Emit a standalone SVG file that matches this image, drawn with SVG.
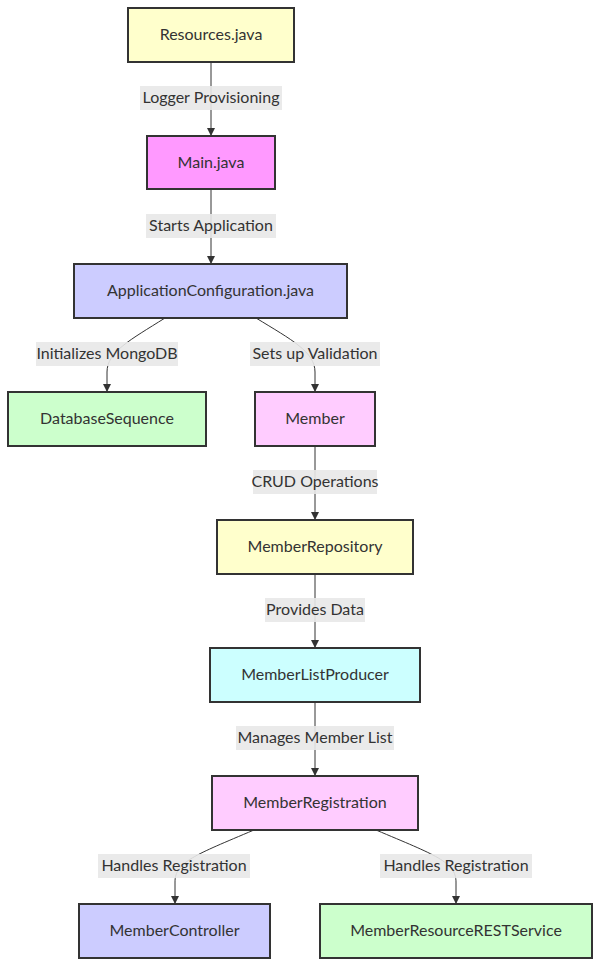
<svg xmlns="http://www.w3.org/2000/svg" width="600" height="966" viewBox="0 0 600 966">
<style>
.node rect{stroke:#333;stroke-width:2}
.node text,.label text{font-family:"Lato","Noto Sans",sans-serif;font-size:16px;fill:#333;text-anchor:middle;dominant-baseline:central}
.edge{fill:none;stroke:#333;stroke-width:1}
.label rect{fill:#e8e8e8;opacity:0.9}
</style>
<defs>
<marker id="arr" viewBox="0 0 10 10" refX="10" refY="5" markerWidth="8" markerHeight="8" markerUnits="userSpaceOnUse" orient="auto">
<path d="M0,0 L10,5 L0,10 z" fill="#333"/>
</marker>
</defs>
<rect width="600" height="966" fill="#fff"/>
<g id="connectors">
<path class="edge" d="M211,62 L211,136" marker-end="url(#arr)"/>
<path class="edge" d="M211,189 L211,264" marker-end="url(#arr)"/>
<path class="edge" d="M165,318 C130,340 107,352 107,372 L107,392" marker-end="url(#arr)"/>
<path class="edge" d="M256,318 C292,340 315,352 315,372 L315,392" marker-end="url(#arr)"/>
<path class="edge" d="M315,446 L315,520" marker-end="url(#arr)"/>
<path class="edge" d="M315,574 L315,648" marker-end="url(#arr)"/>
<path class="edge" d="M315,702 L315,776" marker-end="url(#arr)"/>
<path class="edge" d="M254,830 C195,855 175,862 175,882 L175,904" marker-end="url(#arr)"/>
<path class="edge" d="M376,830 C435,855 456,862 456,882 L456,904" marker-end="url(#arr)"/>
</g>
<g id="edge-labels">
<g class="label"><rect x="140" y="86" width="142" height="24"/><text x="211" y="96.5">Logger Provisioning</text></g>
<g class="label"><rect x="146" y="214" width="130" height="24"/><text x="211" y="224.5">Starts Application</text></g>
<g class="label"><rect x="36" y="342" width="142" height="24"/><text x="107" y="352.5">Initializes MongoDB</text></g>
<g class="label"><rect x="250" y="342" width="130" height="24"/><text x="315" y="352.5">Sets up Validation</text></g>
<g class="label"><rect x="253" y="470" width="124" height="24"/><text x="315" y="480.5">CRUD Operations</text></g>
<g class="label"><rect x="265" y="598" width="100" height="24"/><text x="315" y="608.5">Provides Data</text></g>
<g class="label"><rect x="236" y="726" width="158" height="24"/><text x="315" y="736.5">Manages Member List</text></g>
<g class="label"><rect x="98" y="854" width="152" height="24"/><text x="174" y="864.5">Handles Registration</text></g>
<g class="label"><rect x="380" y="854" width="152" height="24"/><text x="456" y="864.5">Handles Registration</text></g>
</g>
<g id="Resources" class="node"><rect x="128" y="8" width="166" height="54" fill="#ffffcc"/><text x="211" y="33.5">Resources.java</text></g>
<g id="Main" class="node"><rect x="147" y="136" width="128" height="53" fill="#ff99ff"/><text x="211" y="161">Main.java</text></g>
<g id="ApplicationConfiguration" class="node"><rect x="74" y="264" width="273" height="54" fill="#ccccff"/><text x="210.5" y="289.5">ApplicationConfiguration.java</text></g>
<g id="DatabaseSequence" class="node"><rect x="8" y="392" width="198" height="54" fill="#ccffcc"/><text x="107" y="417.5">DatabaseSequence</text></g>
<g id="Member" class="node"><rect x="255" y="392" width="120" height="54" fill="#ffccff"/><text x="315" y="417.5">Member</text></g>
<g id="MemberRepository" class="node"><rect x="217" y="520" width="196" height="54" fill="#ffffcc"/><text x="315" y="545.5">MemberRepository</text></g>
<g id="MemberListProducer" class="node"><rect x="210" y="648" width="210" height="54" fill="#ccffff"/><text x="315" y="673.5">MemberListProducer</text></g>
<g id="MemberRegistration" class="node"><rect x="212" y="776" width="206" height="54" fill="#ffccff"/><text x="315" y="801.5">MemberRegistration</text></g>
<g id="MemberController" class="node"><rect x="79" y="904" width="191" height="54" fill="#ccccff"/><text x="174.5" y="929.5">MemberController</text></g>
<g id="MemberResourceRESTService" class="node"><rect x="320" y="904" width="272" height="54" fill="#ccffcc"/><text x="456" y="929.5">MemberResourceRESTService</text></g>
</svg>
